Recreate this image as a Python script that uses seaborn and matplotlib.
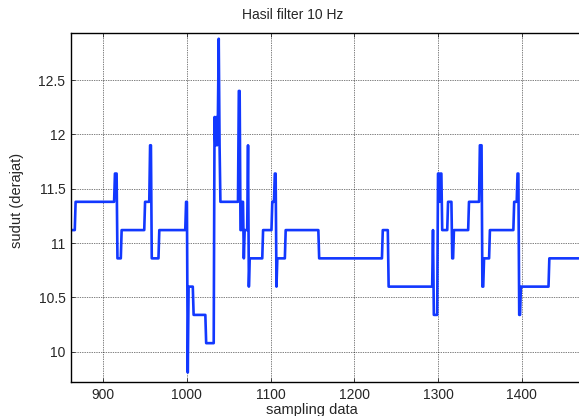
import numpy as np
import pandas as pd
import matplotlib
matplotlib.use('Agg')
import matplotlib.pyplot as plt
import seaborn as sns

# Step runs of the filtered signal: sample index where a level starts, and the level
run_start = [862, 867, 914, 917, 922, 950, 956, 958, 967, 999,
             1001, 1002, 1008, 1023, 1033, 1034, 1035, 1036, 1037, 1038,
             1039, 1040, 1062, 1064, 1066, 1068, 1069, 1073, 1074, 1075,
             1091, 1102, 1105, 1107, 1108, 1118, 1158, 1234, 1241, 1294,
             1295, 1300, 1302, 1303, 1305, 1312, 1317, 1318, 1319, 1337,
             1350, 1353, 1355, 1362, 1391, 1395, 1397, 1399, 1433]
run_level = [11.12, 11.38, 11.64, 10.86, 11.12, 11.38, 11.90, 10.86, 11.12, 11.38,
             9.81, 10.60, 10.34, 10.08, 12.16, 11.90, 12.16, 11.90, 12.16, 12.88,
             11.90, 11.38, 12.40, 11.12, 11.38, 10.86, 11.12, 11.90, 10.60, 10.86,
             11.12, 11.38, 11.64, 10.60, 10.86, 11.12, 10.86, 11.12, 10.60, 11.12,
             10.34, 11.64, 11.38, 11.64, 11.12, 11.38, 10.86, 10.86, 11.12, 11.38,
             11.90, 10.60, 10.86, 11.12, 11.38, 11.64, 10.34, 10.60, 10.86]
last_sample = 1468

x_ticks = [900, 1000, 1100, 1200, 1300, 1400]
y_ticks = [10, 10.5, 11, 11.5, 12, 12.5]
y_tick_labels = ['10', '10.5', '11', '11.5', '12', '12.5']

# expand runs into one value per sample
samples = np.arange(run_start[0], last_sample + 1)
idx = np.searchsorted(run_start, samples, side='right') - 1
df = pd.DataFrame({'sample': samples, 'sudut': np.array(run_level)[idx]})

sns.set_style('white')
plt.rcParams['font.family'] = ['Liberation Sans', 'DejaVu Sans']

fig = plt.figure(figsize=(5.79, 4.16), dpi=100)
W, H = 579, 416
ax = fig.add_axes([71 / W, (H - 382.3) / H, 510 / W, 349 / H])

sns.lineplot(data=df, x='sample', y='sudut', ax=ax, color='#1238ff', linewidth=1.9)

ax.set_xlim(861.5, 861.5 + 510 / 0.837)
ax.set_ylim(9.72, 12.93)
ax.set_xticks(x_ticks)
ax.set_yticks(y_ticks)
ax.set_yticklabels(y_tick_labels)
ax.grid(True, color='black', linestyle=(0, (1, 1.5)), linewidth=0.5)
ax.tick_params(direction='in', length=3, width=0.6, labelsize=10, pad=4,
               top=True, left=True, bottom=True)
for side in ['left', 'bottom', 'top']:
    ax.spines[side].set_color('black')
    ax.spines[side].set_linewidth(1.0)
ax.spines['right'].set_visible(False)

ax.set_title('Hasil filter 10 Hz', fontsize=10, x=(293 - 71) / 510, pad=10)
ax.set_xlabel('sampling data', fontsize=10.5)
ax.xaxis.set_label_coords((312 - 71) / 510, -0.06)
ax.set_ylabel('sudut (derajat)', fontsize=10.5)
ax.yaxis.set_label_coords((24 - 71) / 510, 0.52)

fig.savefig('out.png', dpi=100)
